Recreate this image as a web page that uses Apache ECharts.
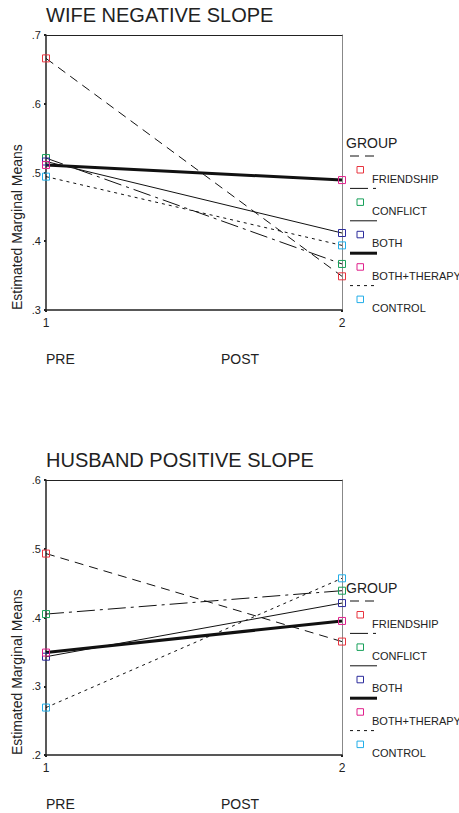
<!DOCTYPE html>
<html>
<head>
<meta charset="utf-8">
<script src="https://cdn.jsdelivr.net/npm/echarts@6/dist/echarts.min.js"></script>
<style>
html,body{margin:0;padding:0;background:#fff;}
#chart{width:459px;height:813px;}
</style>
</head>
<body>
<div id="chart"></div>
<script>
const groups = ['FRIENDSHIP', 'CONFLICT', 'BOTH', 'BOTH+THERAPY', 'CONTROL'];
const timePoints = [1, 2];
const wifePre = [0.666, 0.521, 0.516, 0.511, 0.494];
const wifePost = [0.349, 0.367, 0.412, 0.489, 0.394];
const husbandPre = [0.493, 0.405, 0.343, 0.349, 0.269];
const husbandPost = [0.365, 0.439, 0.421, 0.395, 0.457];
const titles = ['WIFE NEGATIVE SLOPE', 'HUSBAND POSITIVE SLOPE'];
const yRanges = [[0.3, 0.7], [0.2, 0.6]];
const timeLabels = ['PRE', 'POST'];
const yAxisTitle = 'Estimated Marginal Means';
const legendTitle = 'GROUP';

const markerColors = ['#e8343f', '#17a05a', '#2b2b9c', '#e0208c', '#22aee8'];
const lineDashes = [[9, 6], [18, 5, 3, 5], 'solid', 'solid', [3, 4]];
const lineWidths = [1, 1, 1, 3, 1];
const FONT = '"Liberation Sans", Arial, Helvetica, sans-serif';
const TXT = '#222';

const panels = [
  {pre: wifePre, post: wifePost, top: 35},
  {pre: husbandPre, post: husbandPost, top: 480}
];
const PL = 46, PW = 296, PH = 275;

const grids = [], xAxes = [], yAxes = [], series = [], graphics = [];
panels.forEach((p, k) => {
  grids.push({left: PL, top: p.top, width: PW, height: PH, containLabel: false});
  // bottom x axis
  xAxes.push({
    type: 'value', gridIndex: k, min: 1, max: 2, interval: 1, position: 'bottom',
    axisLine: {lineStyle: {color: '#222', width: 1.5}},
    axisTick: {show: true, length: 2, lineStyle: {color: '#222', width: 2}},
    axisLabel: {color: TXT, fontSize: 12, fontFamily: FONT, margin: 7},
    splitLine: {show: false}
  });
  // top frame
  xAxes.push({
    type: 'value', gridIndex: k, min: 1, max: 2, position: 'top',
    axisLine: {lineStyle: {color: '#222', width: 1}},
    axisTick: {show: false}, axisLabel: {show: false}, splitLine: {show: false}
  });
  yAxes.push({
    type: 'value', gridIndex: k, min: yRanges[k][0], max: yRanges[k][1], interval: 0.1, position: 'left',
    axisLine: {show: true, lineStyle: {color: '#222', width: 1.5}},
    axisTick: {show: true, length: 2, lineStyle: {color: '#222', width: 2}},
    axisLabel: {color: TXT, fontSize: 11, fontFamily: FONT, margin: 5,
      formatter: v => v.toFixed(1).replace(/^0/, '')},
    splitLine: {show: false}
  });
  // right frame
  yAxes.push({
    type: 'value', gridIndex: k, min: yRanges[k][0], max: yRanges[k][1], position: 'right',
    axisLine: {show: true, lineStyle: {color: '#888', width: 1}},
    axisTick: {show: false}, axisLabel: {show: false}, splitLine: {show: false}
  });

  groups.forEach((g, i) => {
    series.push({
      type: 'line', name: g, xAxisIndex: k * 2, yAxisIndex: k * 2,
      data: [[timePoints[0], p.pre[i]], [timePoints[1], p.post[i]]],
      symbol: 'rect', symbolSize: 7,
      itemStyle: {color: 'rgba(255,255,255,0)', borderColor: markerColors[i], borderWidth: 1},
      lineStyle: {color: '#111', width: lineWidths[i], type: lineDashes[i]},
      z: 3, animation: false, silent: true
    });
  });

  const dy = p.top - 35;
  // title
  graphics.push({type: 'text', left: PL, top: 5 + dy,
    style: {text: titles[k], fontSize: 20, fontFamily: FONT, fill: TXT}});
  // y axis name
  graphics.push({type: 'text', x: 10, y: p.top + PH, rotation: Math.PI / 2,
    style: {text: yAxisTitle, fontSize: 14, fontFamily: FONT, fill: TXT, align: 'left', verticalAlign: 'top'}});
  // PRE / POST
  graphics.push({type: 'text', x: 46, y: 358.5 + dy,
    style: {text: timeLabels[0], fontSize: 14, fontFamily: FONT, fill: TXT, align: 'left', verticalAlign: 'middle'}});
  graphics.push({type: 'text', x: 221, y: 358.5 + dy,
    style: {text: timeLabels[1], fontSize: 14, fontFamily: FONT, fill: TXT, align: 'left', verticalAlign: 'middle'}});
  // legend
  graphics.push({type: 'text', x: 346, y: 143 + dy,
    style: {text: legendTitle, fontSize: 14, fontFamily: FONT, fill: TXT, align: 'left', verticalAlign: 'middle'}});
  groups.forEach((g, i) => {
    const off = dy + 32.4 * i;
    graphics.push({type: 'line', shape: {x1: 350, y1: 156 + off, x2: 377, y2: 156 + off},
      style: {stroke: '#111', lineWidth: lineWidths[i], lineDash: Array.isArray(lineDashes[i]) ? lineDashes[i] : null}});
    graphics.push({type: 'rect', shape: {x: 357, y: 166.5 + off, width: 6.5, height: 6.5},
      style: {stroke: markerColors[i], fill: null, lineWidth: 1}});
    graphics.push({type: 'text', x: 372, y: 178.5 + off,
      style: {text: g, fontSize: 11, fontFamily: FONT, fill: TXT, align: 'left', verticalAlign: 'middle'}});
  });
});

const chart = echarts.init(document.getElementById('chart'), null, {renderer: 'svg'});
chart.setOption({
  backgroundColor: '#fff',
  animation: false,
  grid: grids,
  xAxis: xAxes,
  yAxis: yAxes,
  series: series,
  graphic: graphics
});
</script>
</body>
</html>
